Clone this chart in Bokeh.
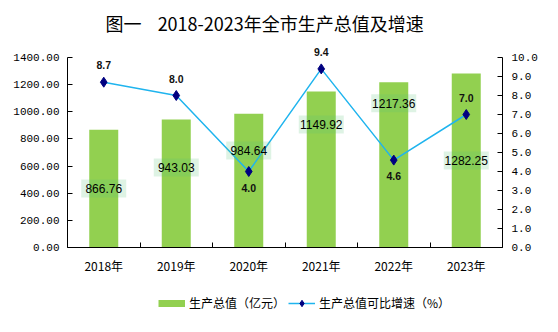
from bokeh.plotting import figure
from bokeh.layouts import column
from bokeh.models import (Range1d, LinearAxis, FixedTicker,
                          NumeralTickFormatter, Legend, LegendItem, Title, ColumnDataSource)
from bokeh.core.properties import value
from bokeh.embed import file_html
from bokeh.resources import INLINE

# ---- data ----
years = ["2018年", "2019年", "2020年", "2021年", "2022年", "2023年"]
gdp = [866.76, 943.03, 984.64, 1149.92, 1217.36, 1282.25]
rate = [8.7, 8.0, 4.0, 9.4, 4.6, 7.0]
gdp_ticks = [0, 200, 400, 600, 800, 1000, 1200, 1400]
rate_ticks = [0, 1, 2, 3, 4, 5, 6, 7, 8, 9, 10]
# layout of the value boxes (left-axis units) and side of growth labels
gdp_label_y = [435, 590, 715, 906, 1062, 641]
rate_label_side = ["above", "above", "below", "above", "below", "above"]

title_text = "图一\u00a0\u00a0\u00a0\u00a02018-2023年全市生产总值及增速"
bar_name = "生产总值（亿元）"
line_name = "生产总值可比增速（%）"

BAR_COLOR = "#92D050"
LINE_COLOR = "#1FB4EE"
MARK_COLOR = "#000080"

n = len(years)
xs = [i + 0.5 for i in range(n)]

# frame extends 17px above the axes' top so the top label is visible
W, H = 558, 332
main_h = 280
left_px, right_px = 67, 502
top_px, bottom_px = 40, 247
axis_top_px = 57
ext = (bottom_px - top_px) / (bottom_px - axis_top_px)

p = figure(width=W, height=main_h, output_backend="svg", toolbar_location=None,
           x_range=Range1d(0, n), y_range=Range1d(0, gdp_ticks[-1] * ext),
           min_border_left=left_px, min_border_right=W - right_px, min_border_top=top_px,
           min_border_bottom=main_h - bottom_px)
p.outline_line_color = None
p.xgrid.visible = False
p.ygrid.visible = False
p.background_fill_color = "white"
p.border_fill_color = "white"

p.title = Title(text=title_text, align="left", offset=38, text_font="Noto Sans CJK SC",
                text_font_size="18px", text_font_style="normal", text_color="black")

p.extra_y_ranges = {"rate": Range1d(0, rate_ticks[-1] * ext)}

# x axis
xa = p.xaxis[0]
xa.ticker = FixedTicker(ticks=xs, minor_ticks=list(range(n + 1)))
xa.major_label_overrides = {x: y for x, y in zip(xs, years)}
xa.major_tick_line_color = None
xa.minor_tick_in = 5
xa.minor_tick_out = 0
xa.minor_tick_line_color = "black"
xa.axis_line_color = "black"
xa.major_label_text_font = "Noto Sans CJK SC"
xa.major_label_text_font_size = "12px"
xa.major_label_text_color = "black"
xa.major_label_standoff = 3

# left axis
ya = p.yaxis[0]
ya.ticker = FixedTicker(ticks=gdp_ticks)
ya.formatter = NumeralTickFormatter(format="0.00")
ya.bounds = (gdp_ticks[0], gdp_ticks[-1])
ya.major_tick_in = 5
ya.major_tick_out = 0
ya.minor_tick_line_color = None
ya.axis_line_color = "black"
ya.major_tick_line_color = "black"
ya.major_label_text_font = "Liberation Mono"
ya.major_label_text_font_size = "11px"
ya.major_label_text_color = "black"
ya.major_label_standoff = 8

# right axis
ra = LinearAxis(y_range_name="rate", ticker=FixedTicker(ticks=rate_ticks),
                formatter=NumeralTickFormatter(format="0.0"),
                bounds=(rate_ticks[0], rate_ticks[-1]))
ra.major_tick_in = 5
ra.major_tick_out = 0
ra.minor_tick_line_color = None
ra.axis_line_color = "black"
ra.major_label_text_font = "Liberation Mono"
ra.major_label_text_font_size = "11px"
ra.major_label_text_color = "black"
ra.major_label_standoff = 9
p.add_layout(ra, "right")

src = ColumnDataSource(dict(x=xs, gdp=gdp, rate=rate, ly=gdp_label_y,
                            gtxt=["%.2f" % v for v in gdp],
                            rtxt=["%.1f" % v for v in rate],
                            roff=[-17 if s == "above" else 16 for s in rate_label_side]))

p.vbar(x="x", top="gdp", width=0.4, source=src, fill_color=BAR_COLOR, line_color=None)

p.line(x="x", y="rate", source=src, y_range_name="rate",
       line_color=LINE_COLOR, line_width=1.5)
p.scatter(x="x", y="rate", source=src, y_range_name="rate", marker="diamond",
          size=10, fill_color=MARK_COLOR, line_color=MARK_COLOR)

# value boxes on bars
p.rect(x="x", y="ly", width=45, height=18, width_units="screen", height_units="screen",
       source=src, fill_color="#5AC378", fill_alpha=0.2, line_color=None)
p.text(x="x", y="ly", text="gtxt", source=src, text_align="center",
       text_baseline="middle", text_font=value("Liberation Sans"),
       text_font_size="12px", text_color="black")

# growth labels
p.text(x="x", y="rate", text="rtxt", source=src, y_range_name="rate",
       y_offset="roff", text_align="center", text_baseline="middle",
       text_font=value("Liberation Sans"), text_font_size="10.5px",
       text_font_style="bold", text_color="#111111")

# ---- legend strip below the chart (frame aligned with the main frame) ----
leg_h = H - main_h
q = figure(width=W, height=leg_h, output_backend="svg", toolbar_location=None,
           x_range=Range1d(0, 1), y_range=Range1d(0, 1),
           min_border_left=left_px, min_border_right=W - right_px,
           min_border_top=0, min_border_bottom=0)
q.axis.visible = False
q.xgrid.visible = False
q.ygrid.visible = False
q.outline_line_color = None
q.border_fill_color = "white"
# swatch sources sit outside the visible range: only their legend glyphs show
swatch = ColumnDataSource(dict(x=[-5, -4], y=[-5, -4]))
lg_bar = q.line(x="x", y="y", source=swatch, line_color=BAR_COLOR, line_width=7)
lg_line = q.line(x="x", y="y", source=swatch, line_color=LINE_COLOR, line_width=1.5)
lg_pts = q.scatter(x="x", y="y", source=swatch, marker="diamond", size=10,
                   fill_color=MARK_COLOR, line_color=MARK_COLOR)

legend = Legend(items=[LegendItem(label=bar_name, renderers=[lg_bar]),
                       LegendItem(label=line_name, renderers=[lg_line, lg_pts])],
                location=(158 - left_px, leg_h - 31), orientation="horizontal",
                glyph_width=27, glyph_height=16, label_standoff=4, spacing=3,
                padding=0, margin=0, border_line_color=None,
                background_fill_alpha=0, label_text_font="Noto Sans CJK SC",
                label_text_font_size="12px", label_text_color="black")
q.add_layout(legend, "center")

layout = column(p, q, spacing=0)
open("out.html", "w").write(file_html(layout, INLINE))
